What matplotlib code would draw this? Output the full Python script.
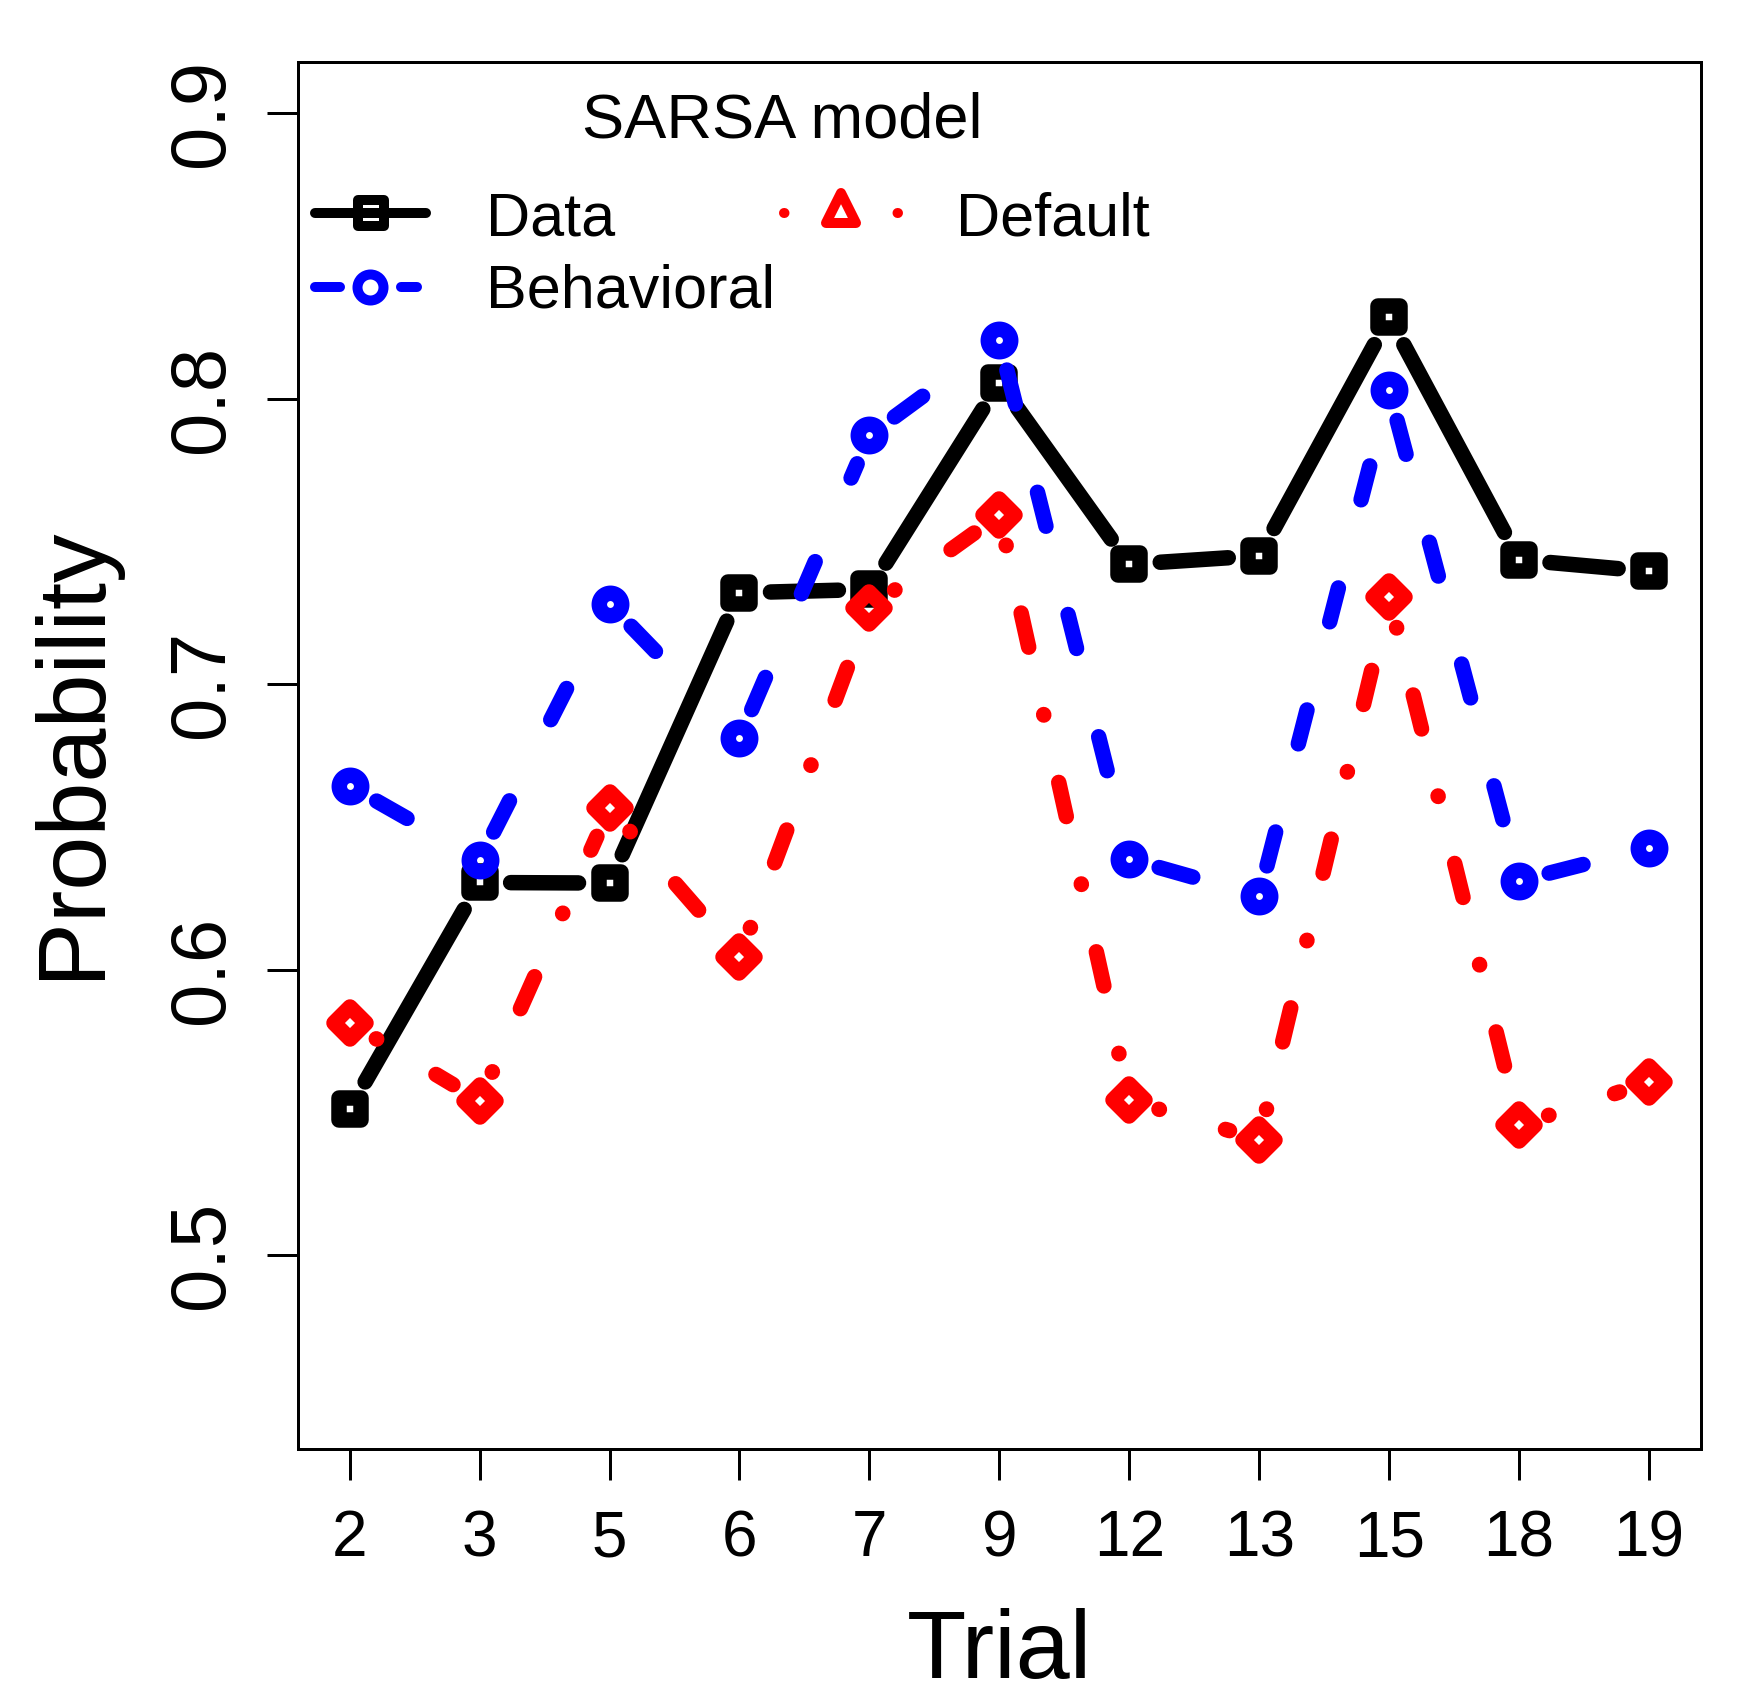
import matplotlib
matplotlib.use("Agg")
import matplotlib.pyplot as plt
import matplotlib.transforms as mtransforms
from matplotlib.markers import MarkerStyle
import numpy as np

trials = ["2", "3", "5", "6", "7", "9", "12", "13", "15", "18", "19"]
data_prob = [0.5512, 0.6305, 0.6303, 0.7320, 0.7332, 0.8056, 0.7420, 0.7450, 0.8285, 0.7436, 0.7395]
behavioral_prob = [0.6644, 0.6385, 0.7281, 0.6811, 0.7872, 0.8206, 0.6387, 0.6258, 0.8029, 0.6311, 0.6427]
default_prob = [0.5813, 0.5541, 0.6566, 0.6044, 0.7266, 0.7593, 0.5542, 0.5404, 0.7304, 0.5455, 0.5605]

plt.rcParams["font.family"] = ["Liberation Sans", "DejaVu Sans"]
plt.rcParams["lines.scale_dashes"] = False

W, H = 1763, 1688
PT = 0.72  # points per pixel at dpi 100

fig = plt.figure(figsize=(W / 100, H / 100), dpi=100)
ax = fig.add_axes([297.7 / W, 1 - 1449 / H, (1701 - 297.7) / W, (1449 - 62) / H])
px = mtransforms.Affine2D().scale(1 / W, -1 / H).translate(0, 1) + fig.transFigure

x = np.arange(1, len(trials) + 1)
ax.set_xlim(0.6, 11.4)
ax.set_ylim(0.432, 0.918)

lw = 15.5 * PT
ms = 22.4 * PT
gap = 31

def gapped_line(xs, ys, color, ls):
    pts = ax.transData.transform(np.column_stack([xs, ys]))
    inv = ax.transData.inverted()
    for p0, p1 in zip(pts[:-1], pts[1:]):
        d = p1 - p0
        length = np.hypot(d[0], d[1])
        if length <= 2 * gap:
            continue
        u = d / length
        a = inv.transform(p0 + u * gap)
        b = inv.transform(p1 - u * gap)
        ax.plot([a[0], b[0]], [a[1], b[1]], color=color, linestyle=ls, lw=lw,
                solid_capstyle="round", dash_capstyle="round")

def points(xs, ys, color, marker):
    ax.plot(xs, ys, linestyle="none", color=color,
            marker=MarkerStyle(marker, fillstyle="none", joinstyle="round"),
            ms=ms, mew=lw)

blue_ls = (0, (35 * PT, 91 * PT))
red_ls = (0, (0.5 * PT, 69 * PT, 35 * PT, 69 * PT))

gapped_line(x, data_prob, "black", "-")
points(x, data_prob, "black", "s")
gapped_line(x, behavioral_prob, "blue", blue_ls)
points(x, behavioral_prob, "blue", "o")
gapped_line(x, default_prob, "red", red_ls)
points(x, default_prob, "red", "D")

ax.set_xticks(x)
ax.set_xticklabels(trials)
ax.set_yticks([0.5, 0.6, 0.7, 0.8, 0.9])
ax.set_yticklabels(["0.5", "0.6", "0.7", "0.8", "0.9"], rotation=90, va="center")
for s in ax.spines.values():
    s.set_linewidth(3 * PT)
ax.tick_params(axis="both", length=31 * PT, width=3 * PT, color="black")
ax.tick_params(axis="x", labelsize=46, pad=21)
ax.tick_params(axis="y", labelsize=56, pad=20)

ax.set_xlabel("Trial", fontsize=70)
ax.xaxis.set_label_coords(999.5, 1678, transform=px)
ax.xaxis.label.set_verticalalignment("baseline")
ax.set_ylabel("Probability", fontsize=70)
ax.yaxis.set_label_coords(98, 752, transform=px)
ax.yaxis.label.set_verticalalignment("baseline")

# legend, drawn by hand in pixel coordinates
leg_lw = 10 * PT
leg_ms = 26 * PT
ax.text(782, 137, "SARSA model", transform=px, fontsize=45.5, ha="center", va="baseline")
ax.plot([315, 426], [213, 213], transform=px, color="black", lw=leg_lw,
        solid_capstyle="round", clip_on=False)
ax.plot([371], [213], transform=px, color="black", linestyle="none", clip_on=False,
        marker=MarkerStyle("s", fillstyle="none", joinstyle="round"), ms=leg_ms, mew=leg_lw)
ax.text(486, 235, "Data", transform=px, fontsize=44, va="baseline")
ax.plot([315, 417], [287, 287], transform=px, color="blue", lw=leg_lw,
        linestyle=(0, (25 * PT, 61 * PT)), dash_capstyle="round", clip_on=False)
ax.plot([370], [287], transform=px, color="blue", linestyle="none", clip_on=False,
        marker=MarkerStyle("o", fillstyle="none"), ms=leg_ms, mew=leg_lw)
ax.text(486, 308, "Behavioral", transform=px, fontsize=44, va="baseline")
ax.plot([784, 898], [213, 213], transform=px, color="red", lw=leg_lw,
        linestyle=(0, (0.5 * PT, 113 * PT)), dash_capstyle="round", clip_on=False)
ax.plot([841], [208], transform=px, color="red", linestyle="none", clip_on=False,
        marker=MarkerStyle("^", fillstyle="none", joinstyle="round"), ms=30 * PT, mew=leg_lw)
ax.text(956, 235, "Default", transform=px, fontsize=44, va="baseline")

fig.savefig("out.png", dpi=100)
